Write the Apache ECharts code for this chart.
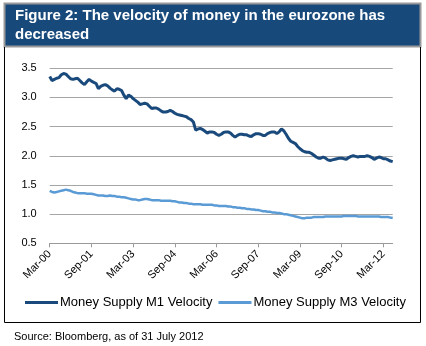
<!DOCTYPE html>
<html>
<head>
<meta charset="utf-8">
<script src="https://cdn.jsdelivr.net/npm/echarts@6/dist/echarts.min.js"></script>
<style>
html,body{margin:0;padding:0;background:#fff;}
#c{width:426px;height:346px;}
</style>
</head>
<body>
<div id="c"></div>
<script>
var titleLines = ["Figure 2: The velocity of money in the eurozone has", "decreased"];
var sourceText = "Source: Bloomberg, as of 31 July 2012";
var seriesNames = ["Money Supply M1 Velocity", "Money Supply M3 Velocity"];
var monthNames = ["Jan","Feb","Mar","Apr","May","Jun","Jul","Aug","Sep","Oct","Nov","Dec"];
var startYear = 2000, startMonth = 2, nMonths = 149; // Mar-00 .. Jul-12
var categories = [];
for (var k = 0; k < nMonths; k++) {
  var m = (startMonth + k) % 12;
  var y = startYear + Math.floor((startMonth + k) / 12);
  categories.push(monthNames[m] + "-" + String(y % 100).padStart(2, "0"));
}
var yTicks = [0.5, 1.0, 1.5, 2.0, 2.5, 3.0, 3.5];

var m1 = [
3.36,3.29,3.31,3.33,3.34,3.39,3.41,3.40,3.36,3.32,
3.31,3.32,3.33,3.29,3.25,3.22,3.27,3.31,3.28,3.26,
3.24,3.15,3.19,3.21,3.22,3.20,3.16,3.13,3.11,3.15,
3.14,3.12,3.04,2.98,3.04,3.02,2.98,2.95,2.92,2.88,
2.89,2.90,2.89,2.85,2.81,2.82,2.82,2.80,2.77,2.75,
2.75,2.76,2.78,2.76,2.73,2.71,2.70,2.69,2.68,2.67,
2.64,2.62,2.58,2.44,2.46,2.47,2.45,2.42,2.39,2.41,
2.41,2.40,2.37,2.35,2.37,2.40,2.41,2.41,2.39,2.35,
2.32,2.35,2.37,2.37,2.36,2.36,2.34,2.33,2.36,2.38,
2.38,2.37,2.35,2.35,2.38,2.40,2.41,2.41,2.38,2.41,
2.46,2.43,2.37,2.30,2.25,2.23,2.21,2.16,2.12,2.09,
2.07,2.06,2.06,2.04,2.01,1.98,1.96,1.96,1.98,1.96,
1.93,1.92,1.93,1.94,1.95,1.96,1.96,1.95,1.94,1.97,
1.99,2.00,1.99,1.98,1.99,1.99,1.99,2.00,1.99,1.97,
1.94,1.96,1.98,1.97,1.95,1.95,1.93,1.91,1.90
];
var m3 = [
1.40,1.38,1.37,1.38,1.39,1.40,1.41,1.42,1.41,1.40,
1.38,1.37,1.36,1.36,1.36,1.36,1.35,1.35,1.35,1.34,
1.33,1.32,1.32,1.32,1.31,1.31,1.32,1.31,1.31,1.30,
1.30,1.29,1.29,1.28,1.27,1.26,1.25,1.25,1.24,1.24,
1.25,1.26,1.26,1.25,1.24,1.24,1.24,1.24,1.23,1.23,
1.23,1.23,1.23,1.22,1.22,1.21,1.20,1.20,1.19,1.19,
1.18,1.18,1.17,1.17,1.17,1.17,1.16,1.16,1.16,1.16,
1.16,1.15,1.15,1.14,1.14,1.14,1.14,1.13,1.13,1.12,
1.12,1.11,1.11,1.10,1.10,1.09,1.09,1.08,1.08,1.07,
1.07,1.06,1.05,1.05,1.04,1.04,1.03,1.03,1.02,1.02,
1.01,1.00,1.00,0.99,0.98,0.97,0.96,0.95,0.94,0.93,
0.93,0.94,0.94,0.94,0.95,0.95,0.95,0.95,0.95,0.96,
0.96,0.96,0.96,0.96,0.96,0.96,0.96,0.97,0.97,0.97,
0.97,0.97,0.97,0.96,0.96,0.96,0.96,0.96,0.96,0.96,
0.96,0.96,0.96,0.95,0.95,0.95,0.95,0.94,0.94
];

var C1 = "#1a4a7c", C3 = "#5b9bd5";
var FONT = "Liberation Sans";
var chart = echarts.init(document.getElementById("c"), null, {renderer: "canvas"});
chart.setOption({
  animation: false,
  backgroundColor: "#fff",
  graphic: [
    {type: "rect", shape: {x: 4.5, y: 3.5, width: 416, height: 43}, style: {fill: "#17497b", stroke: "#999", lineWidth: 2}},
    {type: "line", shape: {x1: 4.5, y1: 47, x2: 4.5, y2: 322.5}, style: {stroke: "#000", lineWidth: 1}},
    {type: "line", shape: {x1: 420.5, y1: 47, x2: 420.5, y2: 322.5}, style: {stroke: "#000", lineWidth: 1}},
    {type: "line", shape: {x1: 4.5, y1: 322.5, x2: 420.5, y2: 322.5}, style: {stroke: "#000", lineWidth: 1}},
    {type: "text", x: 15, y: 8, style: {text: titleLines[0], fill: "#fff", font: "bold 15px " + FONT}},
    {type: "text", x: 15, y: 27, style: {text: titleLines[1], fill: "#fff", font: "bold 15px " + FONT}},
    {type: "text", x: 14, y: 331, style: {text: sourceText, fill: "#000", font: "11px " + FONT}}
  ],
  legend: {
    left: 20, top: 291, itemGap: 6, itemWidth: 33, itemHeight: 3, icon: "rect",
    textStyle: {fontFamily: FONT, fontSize: 13, color: "#000", padding: [0, 0, 0, -3]},
    data: seriesNames
  },
  grid: {left: 49.7, right: 33.3, top: 68.3, bottom: 102.7},
  xAxis: {
    type: "category", data: categories, boundaryGap: false,
    axisLine: {lineStyle: {color: "#999", width: 1}},
    axisTick: {interval: 17, length: 4, lineStyle: {color: "#999"}},
    axisLabel: {interval: 17, rotate: 45, fontFamily: FONT, fontSize: 11, color: "#000", margin: 9},
    splitLine: {show: false}
  },
  yAxis: {
    type: "value", min: 0.5, max: 3.5, interval: 0.5,
    axisLine: {show: false}, axisTick: {show: false},
    axisLabel: {fontFamily: FONT, fontSize: 11, color: "#000", margin: 13, formatter: function (v) { return v.toFixed(1); }},
    splitLine: {lineStyle: {color: "#a6a6a6", width: 1}}
  },
  series: [
    {name: seriesNames[0], type: "line", data: m1, symbol: "none", lineStyle: {color: C1, width: 3}, itemStyle: {color: C1}},
    {name: seriesNames[1], type: "line", data: m3, symbol: "none", lineStyle: {color: C3, width: 2.5}, itemStyle: {color: C3}}
  ]
});
</script>
</body>
</html>
